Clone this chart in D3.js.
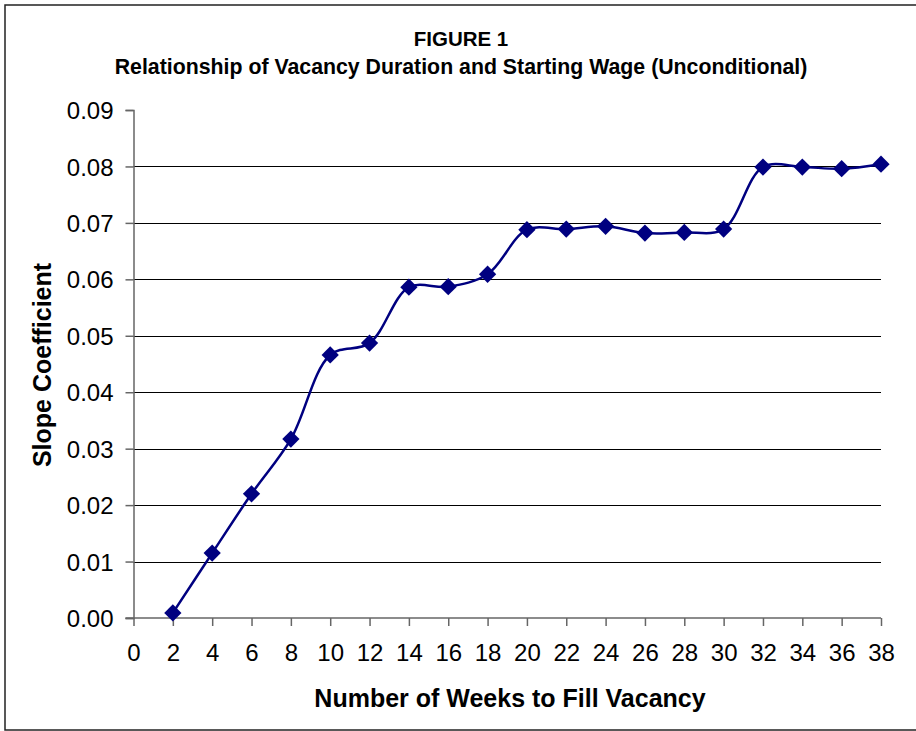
<!DOCTYPE html>
<html>
<head>
<meta charset="utf-8">
<script src="https://cdn.jsdelivr.net/npm/d3@7"></script>
<style>
  body { margin: 0; background: #fff; }
  text { font-family: "Liberation Sans", Arial, sans-serif; }
</style>
</head>
<body>
<div id="chart"></div>
<script>
// weeks to fill vacancy and the slope coefficient
var weeks = [2, 4, 6, 8, 10, 12, 14, 16, 18, 20, 22, 24, 26, 28, 30, 32, 34, 36, 38];
var slope = [0.0009, 0.0115, 0.0220, 0.0317, 0.0466, 0.0487, 0.0586, 0.0587, 0.0609, 0.0688, 0.0689, 0.0694, 0.0682, 0.0683, 0.0689, 0.0799, 0.0799, 0.0796, 0.0804];
var xTicks = d3.range(0, 39, 2);
var yTicks = [0, 0.01, 0.02, 0.03, 0.04, 0.05, 0.06, 0.07, 0.08, 0.09];

var title = "FIGURE 1";
var subtitle = "Relationship of Vacancy Duration and Starting Wage (Unconditional)";
var xTitle = "Number of Weeks to Fill Vacancy";
var yTitle = "Slope Coefficient";

var width = 916, height = 731;
var plotLeft = 133.5, plotRight = 881, plotTop = 110, plotBottom = 618;

var svg = d3.select("#chart").append("svg")
  .attr("width", width).attr("height", height);

svg.append("rect")
  .attr("x", 5).attr("y", 5)
  .attr("width", width + 10).attr("height", 725)
  .attr("fill", "#fff").attr("stroke", "#222").attr("stroke-width", 1.5);

var x = d3.scaleLinear().domain([0, 38]).range([plotLeft, plotRight]);
var y = d3.scaleLinear().domain([0, 0.09]).range([plotBottom, plotTop]);

// grid lines (none at the top value)
svg.append("g").selectAll("line")
  .data(yTicks.filter(function(d) { return d > 0 && d < 0.09; }))
  .enter().append("line")
  .attr("x1", plotLeft).attr("x2", plotRight)
  .attr("y1", function(d) { return Math.round(y(d)) + 0.5; })
  .attr("y2", function(d) { return Math.round(y(d)) + 0.5; })
  .attr("stroke", "#000").attr("stroke-width", 1);

var yAxis = svg.append("g")
  .attr("transform", "translate(" + plotLeft + ",0)")
  .call(d3.axisLeft(y).tickValues(yTicks).tickFormat(d3.format(".2f")).tickSize(8).tickPadding(12));

var xAxis = svg.append("g")
  .attr("transform", "translate(0," + plotBottom + ")")
  .call(d3.axisBottom(x).tickValues(xTicks).tickSize(8).tickPadding(18));

[xAxis, yAxis].forEach(function(g) {
  g.select(".domain").attr("stroke", "#666").attr("stroke-width", 1.5);
  g.selectAll(".tick line").attr("stroke", "#666").attr("stroke-width", 1.5);
  g.selectAll(".tick text").attr("fill", "#000")
    .style("font-family", '"Liberation Sans", Arial, sans-serif')
    .style("font-size", "24px");
});
xAxis.select(".domain").attr("d", "M" + (plotLeft - 8) + ",0H" + plotRight);
yAxis.selectAll(".tick text").attr("dy", "0.36em");

var line = d3.line()
  .x(function(d, i) { return x(weeks[i]); })
  .y(function(d) { return y(d); })
  .curve(d3.curveCatmullRom.alpha(0.5));

svg.append("path")
  .datum(slope)
  .attr("d", line)
  .attr("fill", "none")
  .attr("stroke", "#000080")
  .attr("stroke-width", 2.5);

svg.append("g").selectAll("path")
  .data(slope)
  .enter().append("path")
  .attr("d", d3.symbol().type(d3.symbolDiamond2).size(190))
  .attr("transform", function(d, i) { return "translate(" + x(weeks[i]) + "," + y(d) + ")"; })
  .attr("fill", "#000080");

svg.append("text")
  .attr("x", 461).attr("y", 46)
  .attr("text-anchor", "middle")
  .style("font-weight", "bold").style("font-size", "20.5px")
  .text(title);

svg.append("text")
  .attr("x", 461).attr("y", 74)
  .attr("text-anchor", "middle")
  .style("font-weight", "bold").style("font-size", "21.3px")
  .text(subtitle);

svg.append("text")
  .attr("x", 510).attr("y", 707)
  .attr("text-anchor", "middle")
  .style("font-weight", "bold").style("font-size", "25px")
  .text(xTitle);

svg.append("text")
  .attr("transform", "translate(51,365) rotate(-90)")
  .attr("text-anchor", "middle")
  .style("font-weight", "bold").style("font-size", "25px")
  .text(yTitle);
</script>
</body>
</html>
